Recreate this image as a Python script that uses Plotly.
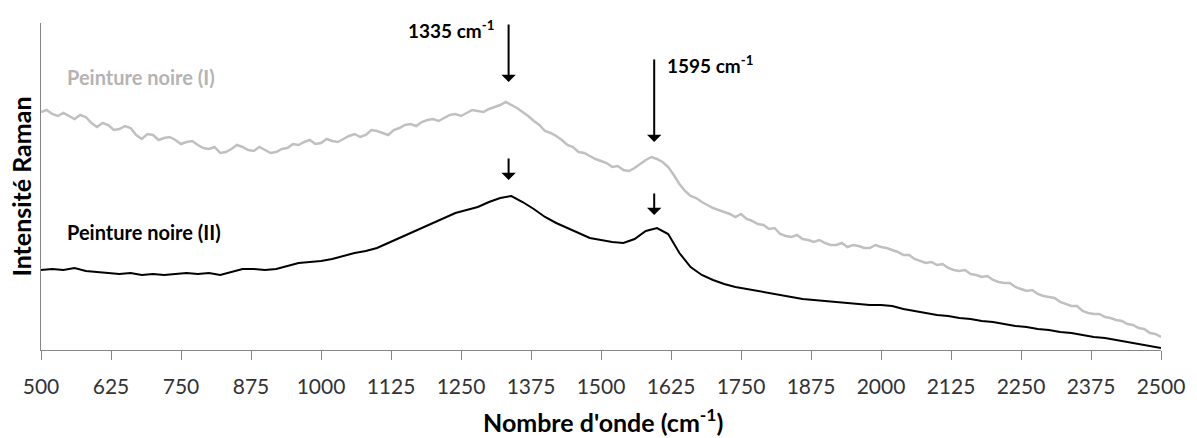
import plotly.graph_objects as go

# Peinture noire (I): wavenumber (cm-1) every 10 cm-1 and intensity (a.u.)
wavenumber_I = list(range(500, 2501, 10))
intensity_I = [
    237, 239, 235, 233, 236, 233, 230, 234, 232, 226,
    222, 226, 224, 219, 220, 223, 221, 214, 210, 215,
    214, 209, 211, 212, 209, 205, 207, 208, 204, 201,
    200, 202, 196, 197, 200, 204, 202, 199, 198, 202,
    199, 196, 197, 200, 201, 205, 204, 207, 209, 205,
    206, 210, 208, 207, 210, 213, 215, 212, 214, 219,
    218, 216, 214, 219, 221, 224, 225, 223, 227, 229,
    230, 228, 231, 234, 235, 233, 236, 239, 238, 237,
    240, 242, 244, 247, 244, 241, 237, 233, 228, 224,
    218, 216, 213, 209, 204, 202, 197, 196, 193, 190,
    188, 186, 182, 183, 179, 178, 181, 185, 189, 192,
    190, 187, 182, 174, 165, 158, 153, 151, 147, 144,
    141, 139, 137, 135, 132, 135, 130, 128, 125, 124,
    120, 121, 115, 113, 112, 114, 110, 109, 107, 109,
    106, 104, 104, 106, 102, 104, 103, 101, 101, 104,
    102, 101, 99, 97, 94, 94, 90, 88, 86, 87,
    84, 85, 81, 79, 78, 79, 75, 74, 72, 73,
    69, 67, 66, 66, 62, 60, 58, 59, 55, 53,
    52, 51, 47, 45, 43, 43, 38, 36, 35, 35,
    32, 31, 29, 28, 25, 24, 21, 20, 16, 15,
    12,
]

# Peinture noire (II): wavenumber (cm-1) every 20 cm-1 and intensity (a.u.)
wavenumber_II = list(range(500, 2501, 20))
intensity_II = [
    79, 80, 79, 81, 78, 77, 76, 75, 76, 74,
    75, 74, 75, 76, 75, 76, 74, 77, 80, 80,
    79, 80, 83, 86, 87, 88, 90, 93, 96, 98,
    101, 106, 111, 116, 121, 126, 131, 136, 139, 142,
    147, 151, 153, 147, 140, 132, 126, 121, 116, 111,
    109, 107, 106, 110, 118, 121, 115, 96, 82, 74,
    69, 65, 62, 60, 58, 56, 54, 52, 50, 49,
    48, 47, 46, 45, 44, 44, 43, 40, 38, 36,
    34, 33, 31, 30, 28, 27, 25, 23, 22, 20,
    19, 17, 16, 14, 12, 11, 9, 7, 5, 3,
    1,
]

tick_values = list(range(500, 2501, 125))
peak_positions = [1335, 1595]

FONT = "Lato"
AXIS_COLOR = "#868686"

fig = go.Figure()
fig.add_trace(go.Scatter(x=wavenumber_I, y=intensity_I, mode="lines",
                         line=dict(color="#c0c0c0", width=2.5),
                         name="Peinture noire (I)", showlegend=False))
fig.add_trace(go.Scatter(x=wavenumber_II, y=intensity_II, mode="lines",
                         line=dict(color="#000000", width=2),
                         name="Peinture noire (II)", showlegend=False))

annotations = [
    dict(text="<b>Peinture noire (I)</b>", x=543, y=272, xref="x", yref="y",
         xanchor="left", yanchor="middle", showarrow=False,
         font=dict(family=FONT, size=20, color="#b4b4b4")),
    dict(text="<b>Peinture noire (II)</b>", x=543, y=117, xref="x", yref="y",
         xanchor="left", yanchor="middle", showarrow=False,
         font=dict(family=FONT, size=20, color="#000000")),
    dict(text="<b>1335 cm<sup>-1</sup></b>", x=1312, y=320, xref="x", yref="y",
         xanchor="right", yanchor="middle", showarrow=False,
         font=dict(family=FONT, size=19, color="#000000")),
    dict(text="<b>1595 cm<sup>-1</sup></b>", x=1615, y=285, xref="x", yref="y",
         xanchor="left", yanchor="middle", showarrow=False,
         font=dict(family=FONT, size=19, color="#000000")),
    # axis titles
    dict(text="<b>Nombre d'onde (cm<sup>-1</sup>)</b>", x=0.502, y=-0.216,
         xref="paper", yref="paper", xanchor="center", yanchor="middle",
         showarrow=False, font=dict(family=FONT, size=25, color="#000000")),
    dict(text="<b>Intensité Raman</b>", x=-0.0187, y=0.5, textangle=-90,
         xref="paper", yref="paper", xanchor="center", yanchor="middle",
         showarrow=False, font=dict(family=FONT, size=25, color="#000000")),
]

# arrows marking the peaks
arrow_specs = [
    (peak_positions[0], 267, 326),
    (peak_positions[1], 207, 291),
    (peak_positions[0], 169, 192),
    (peak_positions[1], 134, 157),
]
for px, head, tail in arrow_specs:
    annotations.append(dict(x=px, y=head, ax=px, ay=tail, xref="x", yref="y",
                            axref="x", ayref="y", text="", showarrow=True,
                            arrowhead=1, arrowsize=1.2, arrowwidth=2,
                            arrowcolor="#000000"))

fig.update_layout(
    width=1197, height=438,
    margin=dict(l=41, r=33, t=23, b=88),
    plot_bgcolor="white", paper_bgcolor="white",
    font=dict(family=FONT, color="#333333"),
    annotations=annotations,
    xaxis=dict(range=[500, 2500], tickvals=tick_values,
               ticktext=[str(v) for v in tick_values],
               showgrid=False, zeroline=False, showline=True,
               linecolor=AXIS_COLOR, linewidth=1,
               ticks="outside", ticklen=9, tickcolor=AXIS_COLOR,
               ticklabelstandoff=9,
               tickfont=dict(family=FONT, size=21, color="#333333")),
    yaxis=dict(range=[-1, 326], showgrid=False, zeroline=False,
               showline=True, linecolor=AXIS_COLOR, linewidth=1,
               showticklabels=False, ticks=""),
)

fig.write_html("out.html",
               config={"displayModeBar": False},
               post_script="document.body.style.margin='0';"
                           "document.body.style.overflow='hidden';")
